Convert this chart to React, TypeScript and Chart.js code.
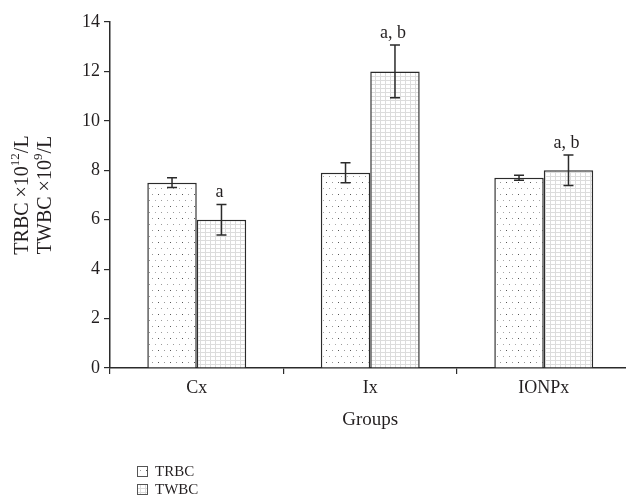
import React, { useEffect, useRef } from 'react';
import { Chart, registerables } from 'chart.js';

Chart.register(...registerables);

const categories = ['Cx', 'Ix', 'IONPx'];
const seriesNames = ['TRBC', 'TWBC'];
const trbcValues = [7.5, 7.9, 7.7];
const trbcErrors = [0.2, 0.4, 0.1];
const twbcValues = [6.0, 12.0, 8.0];
const twbcErrors = [0.62, 1.07, 0.62];
const twbcMarks = ['a', 'a, b', 'a, b'];
const trbcMarks = ['', '', ''];
const yTickValues = [0, 2, 4, 6, 8, 10, 12, 14];
const xTitle = 'Groups';

const FONT = '"Liberation Serif", "DejaVu Serif", serif';
const TEXT = '#231f20';
const LINE = '#2b2b2b';

function dotPattern(): CanvasPattern | string {
  const c = document.createElement('canvas');
  c.width = 12;
  c.height = 12;
  const g = c.getContext('2d');
  if (!g) return '#fff';
  g.fillStyle = '#ffffff';
  g.fillRect(0, 0, 12, 12);
  g.fillStyle = '#555';
  g.fillRect(2, 2, 1, 1);
  g.fillStyle = '#999';
  g.fillRect(8, 2, 1, 1);
  g.fillStyle = '#999';
  g.fillRect(5, 8, 1, 1);
  g.fillStyle = '#aaa';
  g.fillRect(11, 8, 1, 1);
  return g.createPattern(c, 'repeat') || '#fff';
}

function gridPattern(): CanvasPattern | string {
  const c = document.createElement('canvas');
  c.width = 5;
  c.height = 4;
  const g = c.getContext('2d');
  if (!g) return '#fff';
  g.fillStyle = '#ffffff';
  g.fillRect(0, 0, 5, 4);
  g.fillStyle = '#dcdcdc';
  g.fillRect(0, 0, 5, 1);
  g.fillRect(0, 0, 1, 4);
  return g.createPattern(c, 'repeat') || '#fff';
}

export default function App() {
  const ref = useRef<HTMLCanvasElement | null>(null);

  useEffect(() => {
    const canvas = ref.current;
    if (!canvas) return;
    const dots = dotPattern();
    const grid = gridPattern();
    const fills = [dots, grid];
    const errors = [trbcErrors, twbcErrors];
    const marks = [trbcMarks, twbcMarks];

    const extras = {
      id: 'extras',
      afterDatasetsDraw(chart: any) {
        const ctx = chart.ctx as CanvasRenderingContext2D;
        const y = chart.scales.y;
        ctx.save();
        chart.data.datasets.forEach((ds: any, di: number) => {
          const meta = chart.getDatasetMeta(di);
          meta.data.forEach((el: any, i: number) => {
            const v = ds.data[i];
            const e = errors[di][i];
            const yt = y.getPixelForValue(v + e);
            const yb = y.getPixelForValue(v - e);
            ctx.strokeStyle = LINE;
            ctx.lineWidth = 1.5;
            ctx.beginPath();
            ctx.moveTo(el.x, yt);
            ctx.lineTo(el.x, yb);
            ctx.moveTo(el.x - 5, yt);
            ctx.lineTo(el.x + 5, yt);
            ctx.moveTo(el.x - 5, yb);
            ctx.lineTo(el.x + 5, yb);
            ctx.stroke();
            const m = marks[di][i];
            if (m) {
              ctx.fillStyle = TEXT;
              ctx.font = `18px ${FONT}`;
              ctx.textAlign = 'center';
              ctx.textBaseline = 'alphabetic';
              ctx.fillText(m, el.x - 2, yt - 7);
            }
          });
        });
        ctx.restore();
      },
      afterDraw(chart: any) {
        const ctx = chart.ctx as CanvasRenderingContext2D;
        ctx.save();
        // y-axis title with superscripts
        const lines = [
          ['TRBC \u00d710', '12', '/L'],
          ['TWBC \u00d710', '9', '/L'],
        ];
        const cy = (chart.chartArea.top + chart.chartArea.bottom) / 2;
        const xs = [23, 46];
        lines.forEach((parts, li) => {
          ctx.save();
          ctx.translate(xs[li], cy);
          ctx.rotate(-Math.PI / 2);
          const big = `20px ${FONT}`;
          const small = `13px ${FONT}`;
          ctx.font = big;
          const w0 = ctx.measureText(parts[0]).width;
          const w2 = ctx.measureText(parts[2]).width;
          ctx.font = small;
          const w1 = ctx.measureText(parts[1]).width;
          const total = w0 + w1 + w2;
          let u = -total / 2;
          ctx.fillStyle = TEXT;
          ctx.textAlign = 'left';
          ctx.textBaseline = 'middle';
          ctx.font = big;
          ctx.fillText(parts[0], u, 0);
          u += w0;
          ctx.font = small;
          ctx.fillText(parts[1], u, -7);
          u += w1;
          ctx.font = big;
          ctx.fillText(parts[2], u, 0);
          ctx.restore();
        });
        // legend
        const lx = 137;
        const ly = [466, 484];
        seriesNames.forEach((name, i) => {
          ctx.fillStyle = fills[i] as any;
          ctx.fillRect(lx, ly[i], 10, 10);
          ctx.strokeStyle = '#555';
          ctx.lineWidth = 1;
          ctx.strokeRect(lx + 0.5, ly[i] + 0.5, 10, 10);
          ctx.fillStyle = TEXT;
          ctx.font = `15px ${FONT}`;
          ctx.textAlign = 'left';
          ctx.textBaseline = 'middle';
          ctx.fillText(name, lx + 18, ly[i] + 6);
        });
        ctx.restore();
      },
    };

    const chart = new Chart(canvas, {
      type: 'bar',
      data: {
        labels: categories,
        datasets: [
          {
            label: seriesNames[0],
            data: trbcValues,
            backgroundColor: dots as any,
            borderColor: LINE,
            borderWidth: 1.5,
            categoryPercentage: 0.57,
            barPercentage: 1.0,
          },
          {
            label: seriesNames[1],
            data: twbcValues,
            backgroundColor: grid as any,
            borderColor: LINE,
            borderWidth: 1.5,
            categoryPercentage: 0.57,
            barPercentage: 1.0,
          },
        ],
      },
      options: {
        responsive: false,
        animation: false,
        devicePixelRatio: 1,
        layout: { padding: { top: 22, right: 9.5, bottom: 0, left: 0 } },
        plugins: {
          legend: { display: false },
          tooltip: { enabled: false },
        },
        scales: {
          x: {
            type: 'category',
            offset: true,
            grid: {
              display: true,
              offset: true,
              drawOnChartArea: false,
              drawTicks: true,
              tickLength: 6,
              color: LINE,
              lineWidth: 1.2,
            },
            border: { display: true, color: LINE, width: 1.5 },
            ticks: {
              color: TEXT,
              font: { family: FONT, size: 18 },
              padding: 3,
            },
            title: {
              display: true,
              text: xTitle,
              color: TEXT,
              font: { family: FONT, size: 19 },
              padding: { top: 0, bottom: 70 },
            },
            afterFit(scale: any) {
              scale.height = 133;
            },
          },
          y: {
            min: 0,
            max: 14,
            afterBuildTicks(scale: any) {
              scale.ticks = yTickValues.map((v) => ({ value: v }));
            },
            grid: {
              display: true,
              drawOnChartArea: false,
              drawTicks: true,
              tickLength: 6,
              color: LINE,
              lineWidth: 1.2,
            },
            border: { display: true, color: LINE, width: 1.5 },
            ticks: {
              color: TEXT,
              font: { family: FONT, size: 18 },
              padding: 4,
            },
            afterFit(scale: any) {
              scale.width = 110;
            },
          },
        },
      },
      plugins: [extras],
    } as any);

    return () => {
      chart.destroy();
    };
  }, []);

  return (
    <div
      style={{
        position: 'fixed',
        left: 0,
        top: 0,
        width: 626,
        height: 501,
        overflow: 'hidden',
        background: '#fff',
      }}
    >
      <canvas ref={ref} width={640} height={501} style={{ width: 640, height: 501, display: 'block' }} />
    </div>
  );
}
